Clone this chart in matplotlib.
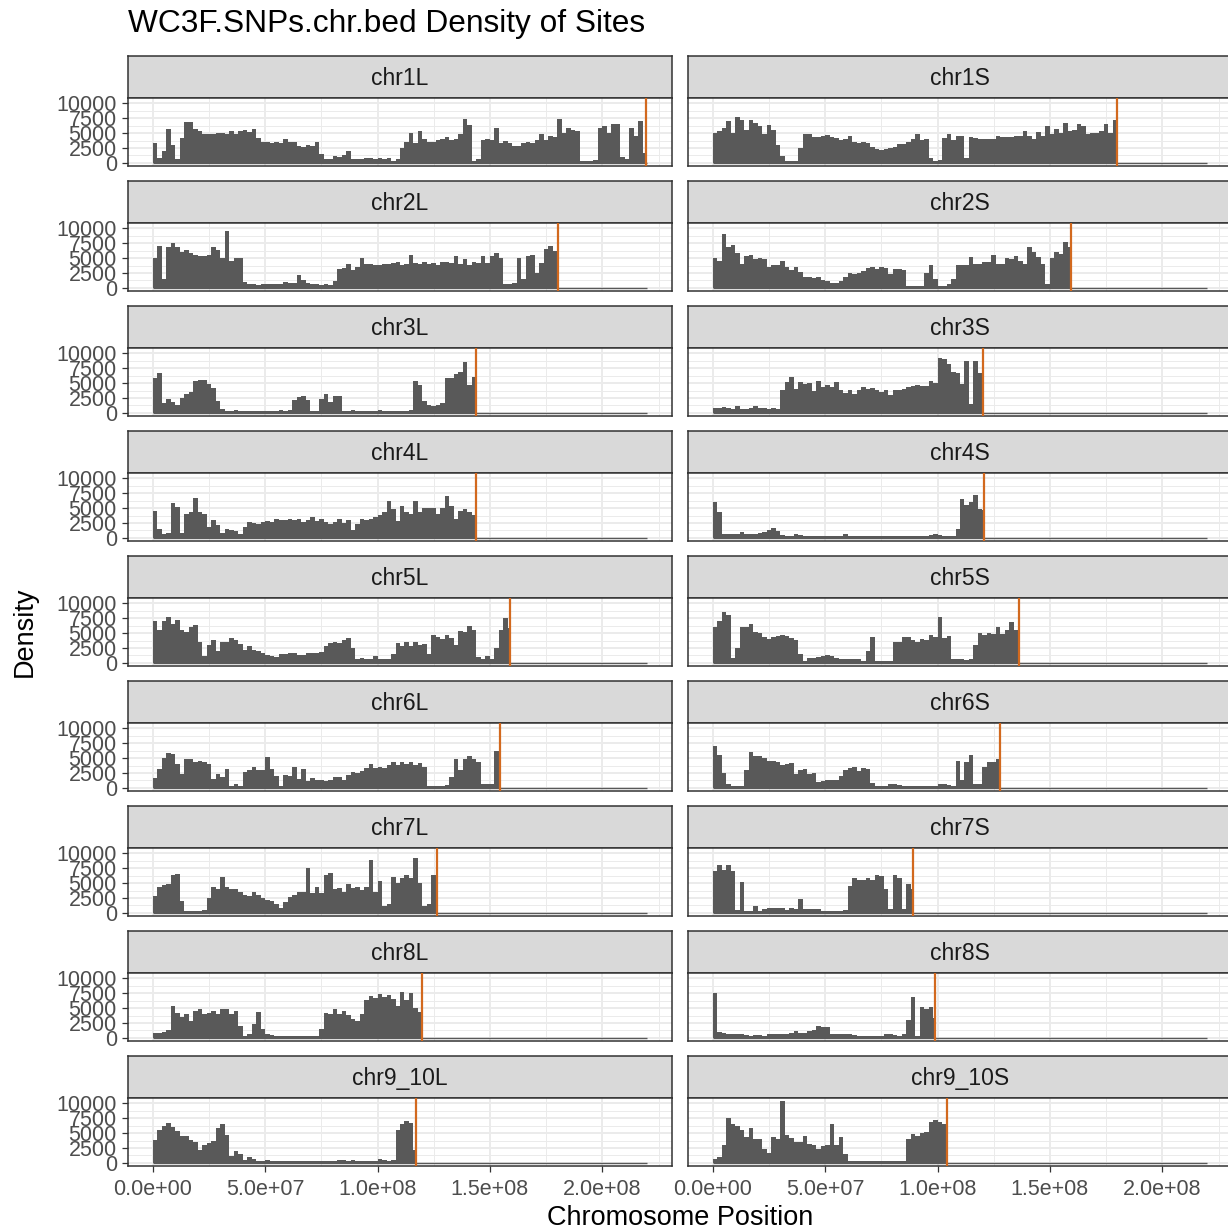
import numpy as np
import matplotlib
matplotlib.use("Agg")
import matplotlib.pyplot as plt

plt.rcParams["font.family"] = ["Liberation Sans", "DejaVu Sans"]

# SNP counts per 2 Mb window, in thousands of sites
BIN_MB = 2.0

chr1L = [3.4, 0.8, 2.0, 5.7, 3.0, 0.6, 4.2, 6.8, 6.8, 5.7,
         5.3, 4.8, 4.8, 4.9, 5.1, 5.0, 4.8, 5.3, 4.8, 5.4,
         5.5, 5.2, 5.7, 4.2, 3.5, 3.6, 3.4, 3.5, 3.3, 4.0,
         3.6, 3.5, 2.8, 2.7, 3.0, 2.9, 3.5, 1.5, 0.6, 0.7,
         1.2, 1.0, 1.4, 2.0, 0.7, 0.6, 0.6, 0.9, 0.8, 0.6,
         0.8, 0.7, 0.9, 0.4, 0.6, 2.5, 3.6, 5.1, 3.4, 5.3,
         4.0, 3.6, 3.5, 3.8, 4.0, 4.3, 3.9, 4.0, 4.8, 7.4,
         6.3, 0.4, 0.6, 3.9, 4.0, 3.8, 5.9, 3.4, 3.7, 3.4,
         2.8, 2.9, 3.4, 3.6, 3.3, 3.8, 4.8, 3.9, 4.6, 4.4,
         7.4, 5.0, 5.9, 5.6, 5.3, 0.4, 0.4, 0.3, 0.5, 5.9,
         6.2, 5.0, 6.6, 6.6, 1.0, 0.7, 5.9, 4.5, 7.0, 1.7]
chr1S = [5.0, 5.3, 5.9, 7.1, 5.0, 7.8, 7.3, 5.6, 7.2, 6.7,
         6.2, 4.8, 6.3, 5.6, 3.0, 1.1, 0.4, 0.4, 0.4, 2.5,
         4.8, 4.8, 4.3, 4.3, 4.5, 4.7, 4.3, 4.2, 3.8, 4.1,
         4.5, 3.5, 3.4, 3.6, 3.3, 2.6, 2.3, 2.2, 2.3, 2.5,
         2.6, 3.1, 3.1, 3.6, 4.0, 4.8, 3.9, 4.0, 0.8, 0.4,
         0.5, 4.2, 4.9, 3.9, 4.5, 4.5, 0.8, 4.3, 4.2, 4.1,
         4.0, 4.0, 4.0, 4.5, 4.4, 4.3, 4.4, 4.5, 4.6, 5.3,
         4.6, 4.0, 5.2, 4.5, 6.2, 4.8, 5.7, 5.1, 6.7, 5.3,
         5.6, 6.6, 6.2, 4.8, 5.1, 5.1, 5.3, 6.5, 5.0, 7.3]
chr2L = [5.0, 7.0, 1.5, 6.9, 7.5, 6.9, 6.0, 6.4, 5.8, 5.6,
         5.3, 5.4, 5.6, 6.9, 6.4, 5.0, 9.6, 4.6, 5.0, 5.0,
         1.0, 0.6, 0.6, 0.5, 0.6, 0.7, 0.7, 0.6, 0.6, 1.0,
         0.8, 0.9, 2.1, 1.4, 0.8, 0.7, 0.6, 0.5, 0.6, 0.5,
         1.2, 3.1, 3.3, 4.0, 3.0, 3.5, 5.0, 4.0, 4.0, 3.9,
         3.8, 4.0, 4.0, 4.2, 4.4, 3.9, 4.0, 5.6, 4.2, 4.1,
         4.3, 4.0, 4.2, 3.9, 4.3, 4.4, 4.2, 5.3, 4.0, 4.9,
         3.8, 4.4, 4.2, 5.3, 4.2, 5.4, 5.8, 5.0, 0.7, 0.6,
         0.9, 5.0, 1.5, 5.3, 5.6, 2.5, 4.2, 6.5, 7.1, 6.2]
chr2S = [5.0, 4.6, 9.0, 6.8, 7.3, 5.9, 4.0, 5.4, 5.5, 4.8,
         5.0, 4.8, 3.6, 3.8, 3.8, 4.6, 3.5, 3.0, 3.5, 2.6,
         1.9, 1.8, 1.7, 1.8, 1.4, 1.2, 0.9, 0.9, 1.2, 1.8,
         2.5, 2.4, 2.5, 2.8, 3.4, 3.6, 3.2, 3.5, 3.4, 2.4,
         3.2, 3.2, 3.0, 0.3, 0.3, 0.4, 0.4, 2.5, 3.9, 1.5,
         0.4, 0.4, 0.6, 1.5, 3.8, 3.9, 3.8, 5.2, 4.0, 4.0,
         4.3, 4.3, 5.5, 4.0, 4.0, 5.0, 4.8, 5.3, 4.6, 4.0,
         6.9, 6.0, 5.2, 4.0, 0.7, 5.0, 6.0, 5.7, 7.8, 6.8]
chr3L = [5.8, 6.7, 1.7, 2.4, 1.9, 1.4, 2.5, 3.1, 3.6, 5.3,
         5.6, 5.6, 4.9, 4.2, 2.0, 0.6, 0.4, 0.4, 0.5, 0.4,
         0.4, 0.4, 0.4, 0.4, 0.3, 0.4, 0.4, 0.4, 0.5, 0.4,
         0.5, 2.2, 2.6, 2.9, 2.2, 0.4, 0.4, 2.4, 3.2, 1.9,
         2.8, 2.8, 0.4, 0.4, 0.5, 0.4, 0.4, 0.3, 0.4, 0.4,
         0.5, 0.4, 0.4, 0.3, 0.4, 0.4, 0.4, 0.5, 5.4, 4.7,
         2.0, 1.4, 1.2, 1.3, 1.7, 5.8, 5.8, 6.5, 6.8, 8.6,
         4.7, 6.0]
chr3S = [0.8, 0.8, 1.0, 0.8, 0.7, 1.1, 0.6, 0.6, 0.8, 1.2,
         0.9, 0.8, 0.7, 0.8, 0.6, 3.8, 5.2, 6.1, 4.0, 5.2,
         4.8, 5.0, 3.7, 5.3, 4.4, 4.7, 4.4, 5.2, 3.8, 3.4,
         3.8, 3.2, 3.9, 4.4, 4.1, 4.2, 3.9, 3.6, 3.9, 3.0,
         3.9, 3.9, 4.0, 4.3, 4.5, 4.7, 4.6, 4.6, 5.3, 5.0,
         9.2, 9.0, 8.2, 6.9, 6.7, 4.8, 8.8, 1.5, 8.8, 6.7]
chr4L = [4.5, 1.5, 0.7, 0.8, 5.9, 5.2, 0.9, 4.1, 4.4, 6.7,
         4.4, 4.0, 1.9, 3.0, 2.1, 0.8, 1.5, 1.3, 1.1, 0.7,
         1.8, 2.6, 2.5, 2.4, 2.7, 2.8, 2.7, 3.2, 3.0, 3.0,
         3.1, 3.0, 3.1, 2.6, 3.0, 3.6, 2.8, 3.1, 2.6, 2.4,
         2.6, 3.1, 2.5, 3.0, 1.3, 2.4, 3.2, 3.0, 3.2, 3.5,
         3.8, 4.3, 6.2, 4.9, 2.8, 5.3, 4.4, 4.0, 6.2, 4.4,
         5.1, 5.0, 5.1, 4.0, 5.1, 7.1, 5.4, 3.2, 4.6, 4.8,
         4.4, 3.8]
chr4S = [6.0, 4.4, 0.6, 0.6, 0.6, 0.7, 1.0, 0.7, 0.7, 0.7,
         0.8, 1.0, 1.3, 1.6, 1.1, 0.5, 0.4, 0.4, 0.6, 0.5,
         0.4, 0.3, 0.3, 0.3, 0.4, 0.4, 0.3, 0.3, 0.3, 0.6,
         0.4, 0.3, 0.3, 0.3, 0.3, 0.3, 0.3, 0.4, 0.3, 0.3,
         0.4, 0.4, 0.3, 0.3, 0.4, 0.3, 0.3, 0.4, 0.5, 0.7,
         0.5, 0.3, 0.3, 0.3, 1.5, 6.6, 5.5, 6.0, 7.2, 4.8,
         4.7]
chr5L = [7.0, 5.5, 7.0, 7.8, 6.5, 7.2, 5.6, 5.2, 6.0, 6.3,
         3.5, 1.1, 3.0, 3.9, 2.0, 3.6, 3.6, 4.2, 3.8, 3.1,
         2.2, 2.8, 2.2, 2.0, 1.7, 1.4, 1.1, 1.0, 1.5, 1.5,
         1.6, 1.6, 1.4, 1.3, 1.7, 1.6, 1.7, 1.9, 2.8, 3.3,
         3.6, 3.4, 3.9, 4.2, 2.5, 0.6, 0.8, 0.6, 0.7, 1.1,
         0.6, 0.6, 0.6, 1.5, 3.3, 2.8, 3.5, 2.9, 3.5, 3.0,
         3.1, 1.5, 4.7, 4.4, 4.0, 4.7, 4.2, 3.0, 5.4, 5.2,
         6.2, 5.5, 1.0, 0.6, 1.1, 0.7, 2.5, 5.5, 7.5, 5.8]
chr5S = [6.0, 7.0, 8.5, 8.0, 0.9, 2.5, 6.1, 6.0, 6.5, 5.2,
         5.0, 4.3, 4.1, 4.3, 4.6, 4.7, 4.6, 4.2, 3.8, 1.5,
         0.4, 0.9, 0.8, 1.0, 1.2, 1.3, 1.1, 0.8, 0.7, 0.7,
         0.6, 0.6, 0.6, 0.4, 2.0, 4.4, 0.4, 0.3, 0.3, 0.3,
         3.5, 3.5, 4.4, 4.3, 3.8, 3.6, 4.0, 3.8, 4.7, 4.3,
         7.8, 4.2, 4.6, 0.7, 0.6, 0.7, 0.5, 0.6, 3.0, 5.0,
         4.7, 5.0, 4.8, 6.0, 4.9, 5.5, 6.9, 5.5]
chr6L = [1.7, 3.2, 5.0, 5.9, 5.7, 4.0, 2.4, 4.9, 4.8, 4.4,
         4.6, 4.3, 4.1, 1.5, 2.4, 1.8, 3.2, 0.4, 0.6, 0.4,
         2.7, 3.0, 3.5, 3.0, 3.0, 5.2, 3.1, 2.0, 0.4, 2.2,
         2.0, 3.5, 1.5, 3.2, 1.1, 1.6, 1.4, 1.3, 1.2, 1.3,
         1.8, 1.8, 1.4, 2.1, 2.7, 2.5, 2.9, 3.3, 4.1, 3.3,
         3.5, 3.4, 3.8, 4.3, 3.8, 4.4, 4.1, 4.3, 3.8, 4.2,
         3.5, 0.4, 0.3, 0.3, 0.4, 0.5, 1.8, 4.8, 3.0, 4.8,
         5.4, 4.9, 4.3, 0.6, 0.7, 0.6, 6.2, 2.1]
chr6S = [7.0, 5.5, 2.5, 0.6, 0.4, 0.4, 0.4, 3.0, 6.0, 5.3,
         5.4, 5.0, 4.6, 4.5, 4.4, 3.9, 4.0, 4.2, 2.4, 3.0,
         3.2, 2.4, 2.5, 1.0, 1.1, 1.3, 1.3, 1.3, 2.0, 3.0,
         3.3, 3.5, 2.8, 3.3, 3.2, 0.8, 0.4, 0.4, 0.4, 0.7,
         0.6, 0.5, 0.4, 0.4, 0.4, 0.3, 0.3, 0.3, 0.3, 0.4,
         0.7, 0.6, 0.5, 0.4, 4.5, 1.3, 4.4, 5.5, 0.7, 0.7,
         3.5, 4.4, 4.4, 4.9]
chr7L = [2.8, 4.3, 4.7, 4.8, 6.4, 6.5, 2.0, 0.4, 0.4, 0.4,
         0.4, 0.5, 2.5, 4.3, 4.0, 6.0, 4.4, 4.1, 4.1, 3.5,
         3.0, 2.8, 3.5, 3.0, 2.5, 2.2, 2.0, 1.5, 0.9, 1.9,
         2.6, 3.0, 3.5, 3.6, 7.6, 3.4, 4.4, 3.4, 6.4, 6.7,
         4.0, 4.2, 3.6, 4.8, 4.2, 4.4, 3.8, 4.4, 8.9, 3.5,
         5.3, 1.2, 1.5, 6.0, 5.0, 5.8, 6.3, 5.8, 9.2, 5.0,
         1.2, 1.5, 6.3, 3.9]
chr7S = [7.0, 8.1, 7.2, 8.0, 7.0, 0.5, 5.2, 0.4, 0.4, 1.2,
         0.4, 0.6, 0.8, 0.8, 0.8, 0.9, 0.5, 0.8, 0.7, 2.4,
         0.6, 0.7, 0.7, 0.6, 0.4, 0.4, 0.4, 0.4, 0.4, 0.5,
         4.5, 5.8, 5.6, 5.5, 5.8, 5.6, 6.3, 6.2, 4.1, 0.7,
         6.3, 5.8, 0.7, 4.9, 4.1]
chr8L = [0.8, 0.9, 1.0, 1.3, 5.3, 4.2, 3.5, 4.1, 2.9, 4.6,
         4.8, 4.0, 4.2, 4.5, 4.0, 4.8, 4.8, 4.0, 4.6, 2.0,
         0.4, 0.6, 2.4, 4.4, 1.5, 0.6, 0.5, 0.3, 0.3, 0.4,
         0.3, 0.3, 0.4, 0.3, 0.3, 0.3, 0.4, 1.5, 4.2, 4.0,
         4.9, 4.0, 4.6, 3.8, 3.2, 2.8, 4.1, 6.3, 7.1, 6.7,
         7.4, 6.8, 7.2, 6.6, 5.4, 7.7, 6.3, 7.6, 5.1, 4.3]
chr8S = [7.6, 1.0, 0.8, 0.7, 0.6, 0.6, 0.6, 0.5, 0.4, 0.5,
         0.5, 0.4, 0.7, 0.6, 0.6, 0.7, 0.7, 0.9, 1.1, 0.8,
         0.9, 1.1, 1.3, 2.0, 1.9, 1.8, 0.7, 0.7, 0.6, 0.7,
         0.6, 0.5, 0.4, 0.4, 0.4, 0.4, 0.4, 0.4, 0.7, 0.6,
         0.5, 0.3, 0.6, 3.0, 6.9, 0.4, 5.2, 4.9, 5.2, 3.3]
chr9_10L = [3.8, 5.6, 6.2, 6.7, 6.0, 5.3, 4.6, 4.5, 3.9, 3.5,
            2.2, 3.0, 3.3, 3.7, 5.9, 6.6, 4.7, 1.2, 2.0, 1.5,
            0.5, 1.0, 0.7, 0.4, 0.3, 0.5, 0.4, 0.3, 0.3, 0.3,
            0.4, 0.3, 0.3, 0.4, 0.3, 0.3, 0.4, 0.3, 0.3, 0.4,
            0.3, 0.5, 0.5, 0.4, 0.5, 0.4, 0.4, 0.3, 0.4, 0.4,
            0.7, 0.5, 0.4, 0.5, 5.5, 6.5, 7.0, 6.7, 2.2]
chr9_10S = [0.6, 1.0, 3.0, 7.5, 6.6, 6.2, 5.5, 4.4, 5.9, 4.0,
            4.1, 2.4, 1.6, 4.4, 4.0, 10.4, 4.7, 4.2, 3.6, 3.5,
            4.6, 3.1, 3.0, 2.4, 2.8, 3.0, 6.5, 3.0, 4.4, 1.5,
            0.3, 0.4, 0.3, 0.3, 0.3, 0.3, 0.3, 0.3, 0.3, 0.3,
            0.3, 0.4, 0.3, 4.1, 4.8, 4.6, 5.0, 5.2, 6.8, 7.2,
            6.9, 6.5]

chrom_names = ["chr1L", "chr1S", "chr2L", "chr2S", "chr3L", "chr3S",
               "chr4L", "chr4S", "chr5L", "chr5S", "chr6L", "chr6S",
               "chr7L", "chr7S", "chr8L", "chr8S", "chr9_10L", "chr9_10S"]
chrom_counts = [chr1L, chr1S, chr2L, chr2S, chr3L, chr3S,
                chr4L, chr4S, chr5L, chr5S, chr6L, chr6S,
                chr7L, chr7S, chr8L, chr8S, chr9_10L, chr9_10S]
# chromosome lengths in Mb
chrom_lengths = [219.4, 179.8, 180.5, 159.4, 144.0, 120.1,
                 143.6, 120.8, 158.9, 136.1, 154.4, 128.0,
                 126.5, 89.2, 119.7, 98.7, 117.3, 104.3]

x_breaks = [0, 5e7, 1e8, 1.5e8, 2e8]
x_labels = ["0.0e+00", "5.0e+07", "1.0e+08", "1.5e+08", "2.0e+08"]
y_breaks = [0, 2500, 5000, 7500, 10000]

W, H = 1228, 1232
BAR_COL = "#595959"
LINE_COL = "#D2691E"
GRID_COL = "#EBEBEB"
BORDER_COL = "#333333"
TEXT_COL = "#4D4D4D"

fig = plt.figure(figsize=(W / 100, H / 100), dpi=100)


def px_box(x, y, w, h):
    return [x / W, 1 - (y + h) / H, w / W, h / H]


col_x = [128, 688]
panel_w = 544
strip_top, strip_h, panel_h, row_step = 56, 42, 68, 125

max_end = max(len(c) for c in chrom_counts) * BIN_MB * 1e6
ymax = max(max(c) for c in chrom_counts) * 1000
xlim = (-0.05 * max_end, 1.05 * max_end)
ylim = (-0.05 * ymax, 1.05 * ymax)

n_rows = len(chrom_names) // 2
for i, (name, counts, length) in enumerate(zip(chrom_names, chrom_counts, chrom_lengths)):
    row, col = divmod(i, 2)
    x0 = col_x[col]
    y0 = strip_top + row * row_step

    # facet strip
    sax = fig.add_axes(px_box(x0, y0, panel_w, strip_h))
    sax.set_facecolor("#D9D9D9")
    sax.set_xticks([])
    sax.set_yticks([])
    for sp in sax.spines.values():
        sp.set_color(BORDER_COL)
        sp.set_linewidth(1.1)
    sax.text(0.5, 0.47, name, ha="center", va="center", fontsize=16.5,
             color="#1A1A1A", transform=sax.transAxes)

    ax = fig.add_axes(px_box(x0, y0 + strip_h, panel_w, panel_h))
    heights = np.array(counts) * 1000
    lefts = np.arange(len(counts)) * BIN_MB * 1e6
    end = length * 1e6
    widths = np.minimum(BIN_MB * 1e6, end - lefts)
    ax.bar(lefts, heights, width=widths, align="edge", color=BAR_COL,
           linewidth=0, zorder=2)
    ax.hlines(0, 0, max_end, color=BAR_COL, linewidth=1.0, zorder=2)
    ax.axvline(end, color=LINE_COL, linewidth=1.6, zorder=3)

    ax.set_xlim(*xlim)
    ax.set_ylim(*ylim)
    ax.set_xticks(x_breaks)
    ax.set_xticks([2.5e7, 7.5e7, 1.25e8, 1.75e8, 2.25e8], minor=True)
    ax.set_yticks(y_breaks)
    ax.set_yticks([1250, 3750, 6250, 8750], minor=True)
    ax.grid(which="major", color=GRID_COL, linewidth=1.4)
    ax.grid(which="minor", color=GRID_COL, linewidth=0.7)
    ax.set_axisbelow(True)
    for sp in ax.spines.values():
        sp.set_color(BORDER_COL)
        sp.set_linewidth(1.1)
    ax.tick_params(which="minor", length=0)
    ax.tick_params(which="major", length=4.5, width=0.9, color=BORDER_COL,
                   labelcolor=TEXT_COL, labelsize=15.5)
    ax.tick_params(axis="y", pad=3.5)
    ax.tick_params(axis="x", pad=5)

    if col == 0:
        ax.set_yticklabels([str(v) for v in y_breaks])
    else:
        ax.tick_params(axis="y", length=0, labelleft=False)
    if row == n_rows - 1:
        ax.set_xticklabels(x_labels)
    else:
        ax.tick_params(axis="x", length=0, labelbottom=False)

fig.text(128 / W, 1 - 24 / H, "WC3F.SNPs.chr.bed Density of Sites",
         fontsize=22.8, ha="left", va="center", color="black")
fig.text(25 / W, 1 - 632 / H, "Density", rotation=90, fontsize=19.5,
         ha="center", va="center", color="black")
fig.text(680 / W, 1 - 1218 / H, "Chromosome Position", fontsize=19.5,
         ha="center", va="center", color="black")

fig.savefig("out.png", dpi=100)
